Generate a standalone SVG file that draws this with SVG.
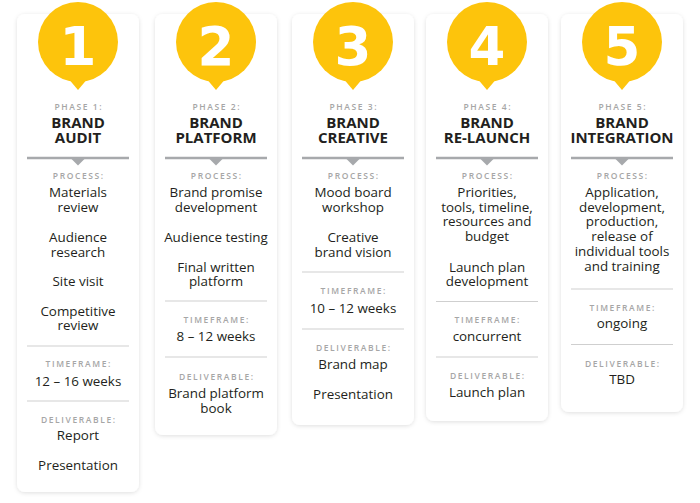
<svg xmlns="http://www.w3.org/2000/svg" width="700" height="503" viewBox="0 0 700 503">
<defs>
<filter id="sh" x="-20%" y="-10%" width="140%" height="120%">
<feDropShadow dx="0" dy="1" stdDeviation="2.2" flood-color="#000" flood-opacity="0.13"/>
</filter>
<g id="badge">
<circle cx="0" cy="42" r="40"/>
<path d="M-11,77 L0,90 L11,77 Z"/>
</g>
<g id="rule">
<line x1="-51" y1="158" x2="51" y2="158" stroke="#a7a9ac" stroke-width="2.5"/>
<path d="M-6.5,159 L0,165.5 L6.5,159 Z" fill="#a7a9ac"/>
</g>
</defs>
<style>
.card{fill:#ffffff;filter:url(#sh)}
.bd{fill:#fdc40c}
.num{font-family:"DejaVu Sans",sans-serif;font-weight:bold;font-size:53px;fill:#ffffff;text-anchor:middle}
.lbl{font-family:"Open Sans",sans-serif;font-weight:600;font-size:8.5px;letter-spacing:1.6px;fill:#a6a6a6;text-anchor:middle}
.ttl{font-family:"Open Sans",sans-serif;font-weight:700;font-size:15px;fill:#231f20;text-anchor:middle}
.txt{font-family:"Open Sans",sans-serif;font-size:13.4px;fill:#231f20;text-anchor:middle}
.thin{stroke:#cfcfcf;stroke-width:1}
</style>
<rect width="700" height="503" fill="#ffffff"/>

<g id="phase1" transform="translate(78,0)">
<rect class="card" x="-61" y="14" width="122" height="478" rx="8"/>
<use href="#badge" class="bd"/>
<text class="num" x="0" y="65">1</text>
<text class="lbl" x="0.8" y="110">PHASE 1:</text>
<text class="ttl" x="0" y="128">BRAND</text>
<text class="ttl" x="0" y="143">AUDIT</text>
<use href="#rule"/>
<text class="lbl" x="0.8" y="179">PROCESS:</text>
<text class="txt" x="0" y="197">Materials</text>
<text class="txt" x="0" y="211.7">review</text>
<text class="txt" x="0" y="242">Audience</text>
<text class="txt" x="0" y="256.5">research</text>
<text class="txt" x="0" y="286">Site visit</text>
<text class="txt" x="0" y="315.5">Competitive</text>
<text class="txt" x="0" y="330">review</text>
<line class="thin" x1="-51" y1="346" x2="51" y2="346"/>
<text class="lbl" x="0.8" y="367">TIMEFRAME:</text>
<text class="txt" x="0" y="386">12 – 16 weeks</text>
<line class="thin" x1="-51" y1="401" x2="51" y2="401"/>
<text class="lbl" x="0.8" y="423">DELIVERABLE:</text>
<text class="txt" x="0" y="440">Report</text>
<text class="txt" x="0" y="470">Presentation</text>
</g>

<g id="phase2" transform="translate(216,0)">
<rect class="card" x="-61" y="14" width="122" height="421" rx="8"/>
<use href="#badge" class="bd"/>
<text class="num" x="0" y="65">2</text>
<text class="lbl" x="0.8" y="110">PHASE 2:</text>
<text class="ttl" x="0" y="128">BRAND</text>
<text class="ttl" x="0" y="143">PLATFORM</text>
<use href="#rule"/>
<text class="lbl" x="0.8" y="179">PROCESS:</text>
<text class="txt" x="0" y="197">Brand promise</text>
<text class="txt" x="0" y="211.7">development</text>
<text class="txt" x="0" y="242">Audience testing</text>
<text class="txt" x="0" y="271.5">Final written</text>
<text class="txt" x="0" y="286">platform</text>
<line class="thin" x1="-51" y1="301" x2="51" y2="301"/>
<text class="lbl" x="0.8" y="322.5">TIMEFRAME:</text>
<text class="txt" x="0" y="340.5">8 – 12 weeks</text>
<line class="thin" x1="-51" y1="357" x2="51" y2="357"/>
<text class="lbl" x="0.8" y="379.5">DELIVERABLE:</text>
<text class="txt" x="0" y="398">Brand platform</text>
<text class="txt" x="0" y="412.7">book</text>
</g>

<g id="phase3" transform="translate(353,0)">
<rect class="card" x="-61" y="14" width="122" height="411" rx="8"/>
<use href="#badge" class="bd"/>
<text class="num" x="0" y="65">3</text>
<text class="lbl" x="0.8" y="110">PHASE 3:</text>
<text class="ttl" x="0" y="128">BRAND</text>
<text class="ttl" x="0" y="143">CREATIVE</text>
<use href="#rule"/>
<text class="lbl" x="0.8" y="179">PROCESS:</text>
<text class="txt" x="0" y="197">Mood board</text>
<text class="txt" x="0" y="211.7">workshop</text>
<text class="txt" x="0" y="242">Creative</text>
<text class="txt" x="0" y="256.5">brand vision</text>
<line class="thin" x1="-51" y1="272" x2="51" y2="272"/>
<text class="lbl" x="0.8" y="294">TIMEFRAME:</text>
<text class="txt" x="0" y="313">10 – 12 weeks</text>
<line class="thin" x1="-51" y1="329" x2="51" y2="329"/>
<text class="lbl" x="0.8" y="351">DELIVERABLE:</text>
<text class="txt" x="0" y="369">Brand map</text>
<text class="txt" x="0" y="399">Presentation</text>
</g>

<g id="phase4" transform="translate(487,0)">
<rect class="card" x="-61" y="14" width="122" height="407" rx="8"/>
<use href="#badge" class="bd"/>
<text class="num" x="0" y="65">4</text>
<text class="lbl" x="0.8" y="110">PHASE 4:</text>
<text class="ttl" x="0" y="128">BRAND</text>
<text class="ttl" x="0" y="143">RE-LAUNCH</text>
<use href="#rule"/>
<text class="lbl" x="0.8" y="179">PROCESS:</text>
<text class="txt" x="0" y="197">Priorities,</text>
<text class="txt" x="0" y="211.7">tools, timeline,</text>
<text class="txt" x="0" y="226.4">resources and</text>
<text class="txt" x="0" y="241">budget</text>
<text class="txt" x="0" y="271.5">Launch plan</text>
<text class="txt" x="0" y="286">development</text>
<line class="thin" x1="-51" y1="301.5" x2="51" y2="301.5"/>
<text class="lbl" x="0.8" y="323">TIMEFRAME:</text>
<text class="txt" x="0" y="341">concurrent</text>
<line class="thin" x1="-51" y1="357" x2="51" y2="357"/>
<text class="lbl" x="0.8" y="378.5">DELIVERABLE:</text>
<text class="txt" x="0" y="397">Launch plan</text>
</g>

<g id="phase5" transform="translate(622,0)">
<rect class="card" x="-61" y="14" width="122" height="398" rx="8"/>
<use href="#badge" class="bd"/>
<text class="num" x="0" y="65">5</text>
<text class="lbl" x="0.8" y="110">PHASE 5:</text>
<text class="ttl" x="0" y="128">BRAND</text>
<text class="ttl" x="0" y="143">INTEGRATION</text>
<use href="#rule"/>
<text class="lbl" x="0.8" y="179">PROCESS:</text>
<text class="txt" x="0" y="197">Application,</text>
<text class="txt" x="0" y="211.7">development,</text>
<text class="txt" x="0" y="226.4">production,</text>
<text class="txt" x="0" y="241">release of</text>
<text class="txt" x="0" y="255.8">individual tools</text>
<text class="txt" x="0" y="270.5">and training</text>
<line class="thin" x1="-51" y1="289" x2="51" y2="289"/>
<text class="lbl" x="0.8" y="311">TIMEFRAME:</text>
<text class="txt" x="0" y="327.5">ongoing</text>
<line class="thin" x1="-51" y1="344.5" x2="51" y2="344.5"/>
<text class="lbl" x="0.8" y="366.5">DELIVERABLE:</text>
<text class="txt" x="0" y="384">TBD</text>
</g>

<g id="connectors"/>
</svg>
